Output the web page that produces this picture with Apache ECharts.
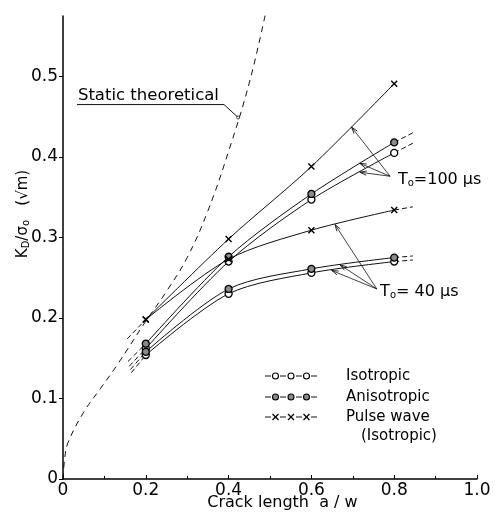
<!DOCTYPE html>
<html>
<head>
<meta charset="utf-8">
<script src="https://cdn.jsdelivr.net/npm/echarts@6/dist/echarts.min.js"></script>
<style>html,body{margin:0;padding:0;background:#fff;}#c{width:495px;height:518px;}</style>
</head>
<body>
<div id="c"></div>
<script>
// ---------- data ----------
const xTicks = [0, 0.2, 0.4, 0.6, 0.8, 1.0];
const yTicks = [0, 0.1, 0.2, 0.3, 0.4, 0.5];
const crackLength = [0.2, 0.4, 0.6, 0.8];
const iso100   = [0.162, 0.270, 0.347, 0.405];
const aniso100 = [0.168, 0.276, 0.354, 0.418];
const iso40    = [0.154, 0.230, 0.256, 0.270];
const aniso40  = [0.158, 0.236, 0.261, 0.275];
const pulse100 = [0.198, 0.298, 0.388, 0.491];
const pulse40  = [0.198, 0.273, 0.309, 0.334];
const staticA = [0, 0.004, 0.012, 0.05, 0.09, 0.13, 0.2, 0.25, 0.3, 0.35, 0.4, 0.45, 0.49];
const staticK = [0, 0.025, 0.045, 0.083, 0.112, 0.141, 0.196, 0.233, 0.275, 0.333, 0.407, 0.492, 0.580];
// dashed extensions: [start a, start K] before first point and [end a, end K] after last point
const extIso100   = [[0.160, 0.140], [0.845, 0.417]];
const extAniso100 = [[0.157, 0.146], [0.845, 0.430]];
const extIso40    = [[0.165, 0.132], [0.845, 0.272]];
const extAniso40  = [[0.163, 0.136], [0.845, 0.277]];
const extPulse100 = [[0.155, 0.174], null];
const extPulse40  = [null, [0.845, 0.338]];

const FONT = 'DejaVu Sans';
const pairs = (ys) => crackLength.map((x, i) => [x, ys[i]]);

function mainSeries(name, ys, kind) {
  const s = {
    name: name, type: 'line', data: pairs(ys), smooth: 0.3,
    lineStyle: { color: '#111', width: 1 },
    symbolSize: 7, z: 3,
    emphasis: { disabled: true }
  };
  if (kind === 'iso') {
    s.symbol = 'circle';
    s.itemStyle = { color: '#fff', borderColor: '#000', borderWidth: 1.3 };
  } else if (kind === 'aniso') {
    s.symbol = 'circle';
    s.itemStyle = { color: '#8a8a8a', borderColor: '#000', borderWidth: 1.3 };
  } else {
    s.symbol = 'path://M0,0L10,10M10,0L0,10';
    s.symbolSize = 6;
    s.itemStyle = { color: 'none', borderColor: '#000', borderWidth: 1.4 };
    s.z = 4;
  }
  return s;
}
function extSeries(ext, ys) {
  const out = [];
  if (ext[0]) out.push({ type: 'line', data: [ext[0], [crackLength[0], ys[0]]], symbol: 'none', silent: true,
    lineStyle: { color: '#111', width: 1, type: [5, 3] } });
  if (ext[1]) out.push({ type: 'line', data: [[crackLength[3], ys[3]], ext[1]], symbol: 'none', silent: true,
    lineStyle: { color: '#111', width: 1, type: [5, 3] } });
  return out;
}

const chart = echarts.init(document.getElementById('c'), null, { renderer: 'canvas' });
const option = {
  animation: false,
  backgroundColor: '#fff',
  grid: { left: 63, right: 18, top: 16, bottom: 39, containLabel: false },
  xAxis: {
    type: 'value', min: 0, max: 1.0, interval: 0.2,
    axisLine: { show: true, lineStyle: { color: '#000', width: 1.5 } },
    axisTick: { show: true, inside: true, length: 4, lineStyle: { color: '#000' } },
    minorTick: { show: true, splitNumber: 2, length: 3, lineStyle: { color: '#000' } },
    splitLine: { show: false },
    axisLabel: { color: '#000', fontFamily: FONT, fontSize: 17, margin: 3,
      formatter: (v) => v === 0 ? '0' : v.toFixed(1) }
  },
  yAxis: {
    type: 'value', min: 0, max: 0.575,
    axisLine: { show: true, lineStyle: { color: '#000', width: 1.5 } },
    axisTick: { show: true, inside: false, length: 4, customValues: yTicks, lineStyle: { color: '#000' } },
    splitLine: { show: false },
    axisLabel: { color: '#000', fontFamily: FONT, fontSize: 17, margin: 5, customValues: yTicks,
      formatter: (v) => v === 0 ? '0' : v.toFixed(1) }
  },
  series: [
    { name: 'Static theoretical', type: 'line', data: staticA.map((a, i) => [a, staticK[i]]),
      smooth: 0.4, symbol: 'none', clip: false, silent: true,
      lineStyle: { color: '#111', width: 1, type: [6, 5] } },
    mainSeries('Isotropic', iso100, 'iso'),
    mainSeries('Anisotropic', aniso100, 'aniso'),
    mainSeries('Isotropic', iso40, 'iso'),
    mainSeries('Anisotropic', aniso40, 'aniso'),
    mainSeries('Pulse wave', pulse100, 'pulse'),
    mainSeries('Pulse wave', pulse40, 'pulse'),
    ...extSeries(extIso100, iso100),
    ...extSeries(extAniso100, aniso100),
    ...extSeries(extIso40, iso40),
    ...extSeries(extAniso40, aniso40),
    ...extSeries(extPulse100, pulse100),
    ...extSeries(extPulse40, pulse40)
  ]
};
chart.setOption(option);

// ---------- annotations (anchored in data coordinates) ----------
const P = (a, k) => chart.convertToPixel({ gridIndex: 0 }, [a, k]);
const g = [];
function arrow(from, to) {
  const p0 = P(from[0], from[1]), p1 = P(to[0], to[1]);
  g.push({ type: 'line', shape: { x1: p0[0], y1: p0[1], x2: p1[0], y2: p1[1] }, style: { stroke: '#111', lineWidth: 0.8 }, silent: true });
  const ang = Math.atan2(p0[1] - p1[1], p0[0] - p1[0]);
  const L = 7, w = 0.3;
  const h1 = [p1[0] + L * Math.cos(ang + w), p1[1] + L * Math.sin(ang + w)];
  const h2 = [p1[0] + L * Math.cos(ang - w), p1[1] + L * Math.sin(ang - w)];
  g.push({ type: 'polyline', shape: { points: [h1, p1, h2] }, style: { stroke: '#111', lineWidth: 0.9, fill: null }, silent: true });
}
// Static theoretical
const stPos = P(0.036, 0.476);
g.push({ type: 'text', x: stPos[0], y: stPos[1], silent: true,
  style: { text: 'Static theoretical', fontFamily: FONT, fontSize: 16.5, fill: '#000', align: 'left', verticalAlign: 'middle' } });
const u0 = P(0.034, 0.465), u1 = P(0.389, 0.465), u2 = P(0.423, 0.449);
g.push({ type: 'polyline', shape: { points: [u0, u1, u2] }, style: { stroke: '#111', lineWidth: 1, fill: null }, silent: true });
g.push({ type: 'circle', shape: { cx: u2[0], cy: u2[1], r: 1.5 }, style: { fill: '#fff', stroke: '#111', lineWidth: 0.8 }, silent: true });

// T0 = 100 us
const richT = {
  t: { fontFamily: FONT, fontSize: 16, fill: '#000' },
  s: { fontFamily: FONT, fontSize: 10, fill: '#000', padding: [7, 0, 0, 0] }
};
const t100 = P(0.809, 0.372);
g.push({ type: 'text', x: t100[0], y: t100[1], silent: true,
  style: { text: '{t|T}{s|o}{t|=100 µs}', rich: richT, align: 'left', verticalAlign: 'middle' } });
arrow([0.790, 0.376], [0.697, 0.437]);
arrow([0.790, 0.376], [0.717, 0.392]);
arrow([0.790, 0.376], [0.717, 0.381]);
// T0 = 40 us
const t40 = P(0.766, 0.232);
g.push({ type: 'text', x: t40[0], y: t40[1], silent: true,
  style: { text: '{t|T}{s|o}{t|= 40 µs}', rich: richT, align: 'left', verticalAlign: 'middle' } });
arrow([0.758, 0.236], [0.657, 0.316]);
arrow([0.758, 0.236], [0.669, 0.266]);
arrow([0.758, 0.236], [0.649, 0.259]);

// axis titles
const xt = P(0.53, 0);
g.push({ type: 'text', x: xt[0], y: 503, silent: true,
  style: { text: 'Crack length  a / w', fontFamily: FONT, fontSize: 16, fill: '#000', align: 'center', verticalAlign: 'middle' } });
g.push({ type: 'text', x: 23, y: 214, rotation: Math.PI / 2, silent: true,
  style: { text: '{n|K}{s|D}{n|/σ}{s|o}{n|   (√m)}', align: 'center', verticalAlign: 'middle',
    rich: { n: { fontFamily: FONT, fontSize: 15, fill: '#000' }, s: { fontFamily: FONT, fontSize: 10, fill: '#000', padding: [7, 0, 0, 0] } } } });

// legend
const legendRows = [
  { y: 376, kind: 'iso', label: 'Isotropic' },
  { y: 397, kind: 'aniso', label: 'Anisotropic' },
  { y: 417, kind: 'pulse', label: 'Pulse wave' }
];
legendRows.forEach(r => {
  [[265, 271], [280, 286], [296, 302], [311, 317]].forEach(d => {
    g.push({ type: 'line', shape: { x1: d[0], y1: r.y, x2: d[1], y2: r.y }, style: { stroke: '#111', lineWidth: 1 }, silent: true });
  });
  [275.5, 291, 306.5].forEach(cx => {
    if (r.kind === 'pulse') {
      g.push({ type: 'polyline', shape: { points: [[cx - 3, r.y - 3], [cx + 3, r.y + 3]] }, style: { stroke: '#000', lineWidth: 1.3, fill: null }, silent: true });
      g.push({ type: 'polyline', shape: { points: [[cx + 3, r.y - 3], [cx - 3, r.y + 3]] }, style: { stroke: '#000', lineWidth: 1.3, fill: null }, silent: true });
    } else {
      g.push({ type: 'circle', shape: { cx: cx, cy: r.y, r: 3 }, style: { fill: r.kind === 'iso' ? '#fff' : '#8a8a8a', stroke: '#000', lineWidth: 1.1 }, silent: true });
    }
  });
  g.push({ type: 'text', x: 346, y: r.y, silent: true,
    style: { text: r.label, fontFamily: FONT, fontSize: 15, fill: '#000', align: 'left', verticalAlign: 'middle' } });
});
g.push({ type: 'text', x: 361, y: 436, silent: true,
  style: { text: '(Isotropic)', fontFamily: FONT, fontSize: 15, fill: '#000', align: 'left', verticalAlign: 'middle' } });

chart.setOption({ graphic: { elements: g } });
</script>
</body>
</html>
